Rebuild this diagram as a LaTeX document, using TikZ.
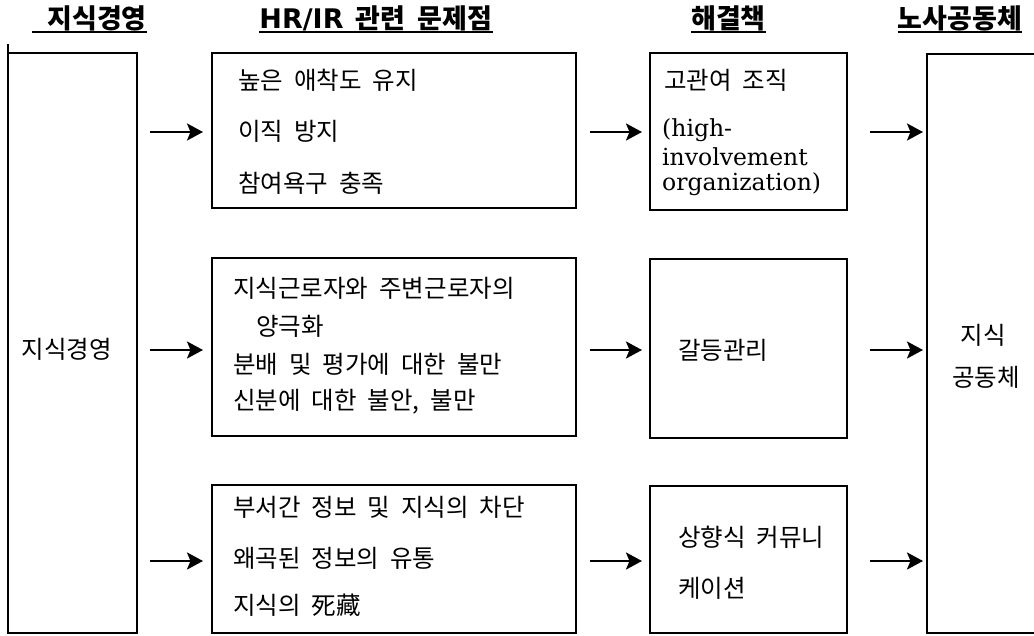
\documentclass[tikz,border=0pt]{standalone}
\usepackage{fontspec}
\setmainfont{DejaVu Serif}
\newfontfamily\kr[WordSpace=2]{Noto Sans CJK KR}
\newfontfamily\hsans{DejaVu Sans}
\usetikzlibrary{arrows.meta}
\tikzset{
  box/.style={draw, line width=1.4pt, anchor=north west, inner sep=0pt, outer sep=0pt},
  arr/.style={line width=2.6pt, -{Stealth[length=16pt,width=17pt,inset=3.5pt]}},
  txt/.style={anchor=west, inner sep=0pt, font=\kr\fontsize{24.5}{28}\selectfont},
  ctxt/.style={inner sep=0pt, font=\kr\fontsize{24.5}{28}\selectfont},
  etxt/.style={anchor=west, inner sep=0pt, font=\fontsize{23.5}{27}\selectfont},
  head/.style={anchor=base, inner sep=0pt, font=\kr\bfseries\fontsize{27}{30}\selectfont},
  uline/.style={line width=2pt},
  edge/.style={line width=1.4pt},
}
\begin{document}
\begin{tikzpicture}[x=1pt,y=-1pt]
\useasboundingbox (0,0) rectangle (1034,635);
\clip (0,0) rectangle (1034,635);
\fill[white] (0,0) rectangle (1034,635);

% headings
\node[head] (h1) at (89.5,28) {\hspace{15pt}지식경영};
\node[head] (h2) at (376,28) {{\hsans\bfseries HR/IR}\ 관련 문제점};
\node[head] (h3) at (728.5,28) {해결책};
\node[head] (h4) at (960,28) {노사공동체};
\foreach \h in {h1,h2,h3,h4}
  \draw[uline] ([yshift=-4pt]\h.base west) -- ([yshift=-4pt]\h.base east);

% row coordinates
\coordinate (r1) at (0,132);
\coordinate (r2) at (0,350);
\coordinate (r3) at (0,561);

% boxes
\node[box, minimum width=129pt, minimum height=580pt] (L) at (8,53) {};
\draw[edge] (L.north west) -- ++(0,-9);
\node[box, minimum width=364pt, minimum height=155pt] (A1) at (212,53) {};
\node[box, minimum width=364pt, minimum height=178pt] (A2) at (212,258) {};
\node[box, minimum width=364pt, minimum height=148pt] (A3) at (212,485) {};
\node[box, minimum width=197pt, minimum height=157pt] (S1) at (650,53) {};
\node[box, minimum width=197pt, minimum height=179pt] (S2) at (650,259) {};
\node[box, minimum width=197pt, minimum height=147pt] (S3) at (650,486) {};
\node[anchor=north west, inner sep=0pt, outer sep=0pt, minimum width=120pt, minimum height=579pt] (R) at (927,54) {};
\draw[edge] (R.north east) -- (R.north west) -- (R.south west) -- (R.south east);

% texts
\node[ctxt] (tL) at (67,349) {지식경영};

\node[txt] (a11) at (238,80) {높은 애착도 유지};
\node[txt] (a12) at (238,131) {이직 방지};
\node[txt] (a13) at (238,183) {참여욕구 충족};

\node[txt] (a21) at (233,288) {지식근로자와 주변근로자의};
\node[txt] (a22) at (256,326) {양극화};
\node[txt] (a23) at (233,364) {분배 및 평가에 대한 불만};
\node[txt] (a24) at (233,402) {신분에 대한 불안, 불만};

\node[txt] (a31) at (233,507) {부서간 정보 및 지식의 차단};
\node[txt] (a32) at (233,558) {왜곡된 정보의 유통};
\node[txt] (a33) at (233,605) {지식의 死藏};

\node[txt] (s11) at (664,80) {고관여 조직};
\node[etxt] (s12) at (662,130) {(high-};
\node[etxt] (s13) at (662,157) {involvement};
\node[etxt] (s14) at (662,184) {organization)};

\node[txt] (s21) at (678,350) {갈등관리};

\node[txt] (s31) at (678,537) {상향식 커뮤니};
\node[txt] (s32) at (678,588) {케이션};

\node[ctxt] (rt1) at (983,335) {지식};
\node[ctxt] (rt2) at (986,377) {공동체};

% arrows
\foreach \r/\a/\s in {r1/A1/S1, r2/A2/S2, r3/A3/S3} {
  \draw[arr, shorten <=13pt, shorten >=9pt] (L.east |- \r) -- (\a.west |- \r);
  \draw[arr, shorten <=14pt, shorten >=8pt] (\a.east |- \r) -- (\s.west |- \r);
  \draw[arr, shorten <=23pt, shorten >=4pt] (\s.east |- \r) -- (R.west |- \r);
}
\end{tikzpicture}
\end{document}
